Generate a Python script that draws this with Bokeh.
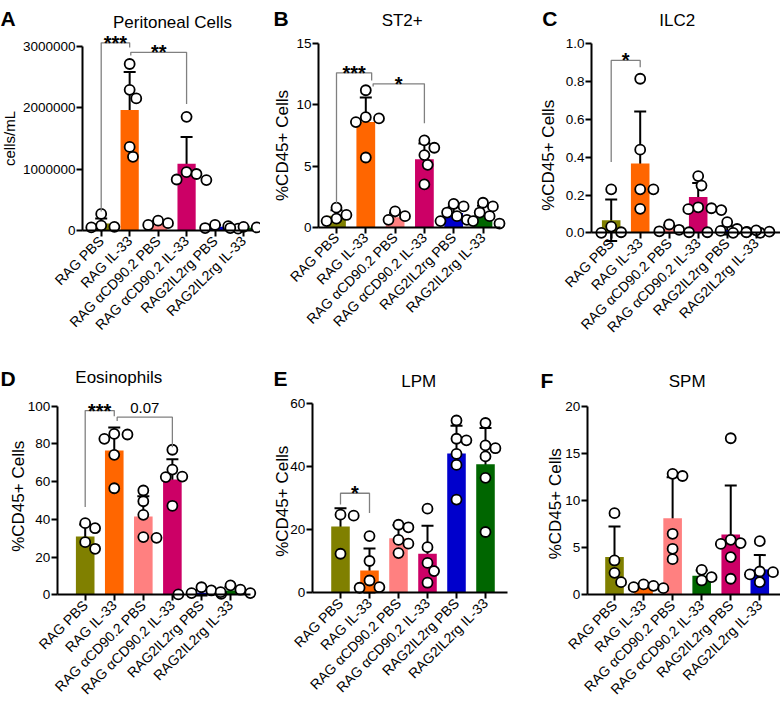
import numpy as np
from bokeh.plotting import figure
from bokeh.models import (ColumnDataSource, Whisker, TeeHead, Label, FixedTicker,
                          Range1d, PrintfTickFormatter)
from bokeh.layouts import column, row
from bokeh.embed import file_html
from bokeh.resources import INLINE

FONT = "Liberation Sans"

# ---------------- data ----------------
groups = ["RAG PBS", "RAG IL-33", "RAG \u03b1CD90.2 PBS", "RAG \u03b1CD90.2 IL-33",
          "RAG2IL2rg PBS", "RAG2IL2rg IL-33"]
colors_main = ["#808000", "#FF6600", "#FF8080", "#CC0066", "#0000CC", "#006600"]
colors_f = ["#808000", "#FF6600", "#FF8080", "#006600", "#CC0066", "#0000CC"]

A_pts = [[270000, 80000, 50000, 60000],
         [2710000, 2290000, 2150000, 1360000, 1200000],
         [160000, 120000, 90000],
         [1850000, 950000, 920000, 820000, 830000],
         [90000, 70000, 40000, 30000],
         [60000, 50000, 40000, 30000]]
A_mean = [115000, 1960000, 125000, 1085000, 60000, 45000]
A_sd = [80000, 620000, 35000, 435000, 30000, 15000]

B_pts = [[1.6, 1.0, 0.7, 0.5],
         [11.2, 9.0, 8.9, 8.6, 5.7],
         [1.3, 0.9, 0.6],
         [7.1, 6.5, 5.9, 5.1, 3.5],
         [1.9, 1.7, 1.2, 0.9, 0.6, 0.5],
         [2.0, 1.7, 1.2, 0.9, 0.5, 0.3]]
B_mean = [0.93, 8.6, 0.82, 5.55, 1.17, 0.95]
B_sd = [0.45, 2.0, 0.35, 1.3, 0.5, 0.8]

C_pts = [[0.23, 0.033, 0.003, 0.0],
         [0.815, 0.44, 0.23, 0.23, 0.127],
         [0.044, 0.016, 0.008, 0.003],
         [0.30, 0.25, 0.135, 0.13, 0.125, 0.12],
         [0.056, 0.02, 0.01, 0.005, 0.003, 0.0],
         [0.013, 0.006, 0.003, 0.0]]
C_mean = [0.066, 0.367, 0.02, 0.19, 0.013, 0.005]
C_sd = [0.11, 0.275, 0.018, 0.073, 0.022, 0.006]

D_pts = [[38.0, 35.3, 27.9, 24.4],
         [85.3, 85.0, 82.7, 74.2, 56.5],
         [55.3, 49.6, 42.4, 30.6, 30.2],
         [76.9, 66.4, 62.7, 62.4, 47.2],
         [4.0, 2.3, 0.9, 0.5, 0.2],
         [5.0, 2.7, 1.4, 0.9]]
D_mean = [30.9, 76.5, 41.5, 61.1, 1.1, 2.3]
D_sd = [6.4, 12.2, 10.7, 10.8, 1.5, 1.8]

E_pts = [[24.8, 24.5, 12.4],
         [18.0, 10.1, 3.9, 1.8, 1.6],
         [21.6, 20.8, 16.8, 15.6, 12.6],
         [26.7, 14.5, 9.5, 6.9, 3.2],
         [54.7, 48.9, 48.4, 44.1, 40.6, 29.6],
         [53.9, 46.8, 45.9, 43.3, 36.5, 19.3]]
E_mean = [21.06, 7.1, 17.35, 12.4, 44.2, 40.8]
E_sd = [5.8, 7.0, 4.1, 8.9, 8.8, 11.5]

F_pts = [[8.66, 3.64, 2.33, 1.34],
         [1.1, 0.95, 0.81, 0.7],
         [12.83, 12.6, 6.47, 4.88, 3.78],
         [2.65, 1.87, 1.52],
         [16.6, 5.83, 5.48, 5.4, 4.0, 1.7],
         [5.69, 2.47, 2.4, 2.16, 1.34]]
F_mean = [4.0, 0.74, 8.13, 2.01, 6.4, 2.69]
F_sd = [3.25, 0.17, 4.33, 0.57, 5.2, 1.52]

# brackets: (left group, left offset, right group, right offset, bar y, left end, right end, text, text y)
A_br = [(0, 0.0, 1, 0.0, 3.055e6, 0.31e6, 2.98e6, "***", 3.055e6),
        (1, 0.04, 3, 0.0, 2.90e6, 2.85e6, 2.06e6, "**", 2.90e6)]
B_br = [(0, 0.0, 1, 0.2, 12.63, 1.91, 12.0, "***", 12.63),
        (1, 0.25, 3, 0.0, 11.73, 11.5, 8.5, "*", 11.73)]
C_br = [(0, 0.0, 1, 0.0, 0.912, 0.374, 0.876, "*", 0.912)]
D_br = [(0, 0.0, 1, 0.0, 97.7, 46.5, 94.7, "***", 97.7),
        (1, 0.1, 3, 0.0, 94.2, 92.1, 78.3, "0.07", 99.3)]
E_br = [(0, 0.0, 1, 0.0, 31.6, 28.0, 25.3, "*", 31.6)]
F_br = []

A_ticks = [0, 1000000, 2000000, 3000000]
B_ticks = [0, 5, 10, 15]
C_ticks = [0, 0.2, 0.4, 0.6, 0.8, 1.0]
D_ticks = [0, 20, 40, 60, 80, 100]
E_ticks = [0, 20, 40, 60]
F_ticks = [0, 5, 10, 15, 20]


def swarm(vals, px_per_unit, spacing, d=10.0, step=3.3):
    order = np.argsort(vals)[::-1]
    placed = []
    offs = [0.0] * len(vals)
    cands = [0.0] + [s * m * step for m in range(1, 30) for s in (1, -1)]
    for i in order:
        yp = vals[i] * px_per_unit
        for c in cands:
            if all((c - px) ** 2 + (yp - py) ** 2 >= d * d for px, py in placed):
                break
        placed.append((c, yp))
        offs[i] = c / spacing
    return offs


def panel(L, pts, means, sds, colors, yticks, fmt, ylabel, ylabel_size, title, letter, brackets):
    fx0, fy0, fw, fh = L["fig"]
    sp = L["spacing"]
    b1 = L["bar1"]
    y0 = L["y0"]
    k = L["ymax"] / (y0 - L["ymax_px"])  # data units per px

    def dx(X):
        return (X - b1) / sp

    def dy(Y):
        return (y0 - Y) * k

    p = figure(width=fw, height=fh, x_range=Range1d(dx(fx0), dx(fx0 + fw)),
               y_range=Range1d(dy(fy0 + fh), dy(fy0)),
               output_backend="svg", toolbar_location=None, title_location=None,
               min_border_left=0, min_border_right=0, min_border_top=0, min_border_bottom=0)
    p.outline_line_color = None
    p.xgrid.visible = False
    p.ygrid.visible = False
    p.background_fill_color = "white"
    p.border_fill_color = "white"

    xa = p.xaxis[0]
    xa.fixed_location = 0
    xa.bounds = (dx(L["axis_x"]), dx(L["right"]))
    xa.ticker = FixedTicker(ticks=list(range(len(groups))))
    xa.major_label_overrides = {i: g for i, g in enumerate(groups)}
    xa.major_label_orientation = np.pi / 4
    xa.major_label_standoff = 2
    xa.major_label_text_font_size = "14px"
    ya = p.yaxis[0]
    ya.fixed_location = dx(L["axis_x"])
    ya.bounds = (0, yticks[-1])
    ya.ticker = FixedTicker(ticks=yticks)
    ya.formatter = PrintfTickFormatter(format=fmt)
    ya.major_label_standoff = 1
    ya.major_label_text_font_size = "13.5px"
    for a in (xa, ya):
        a.axis_line_width = 2
        a.axis_line_color = "black"
        a.major_tick_line_width = 2
        a.major_tick_line_color = "black"
        a.major_tick_out = 6
        a.major_tick_in = 0
        a.minor_tick_line_color = None
        a.major_label_text_font = FONT
        a.major_label_text_color = "black"

    xs = list(range(len(groups)))
    bsrc = ColumnDataSource(dict(x=xs, top=means, color=colors,
                                 lower=[m - sd for m, sd in zip(means, sds)],
                                 upper=[m + sd for m, sd in zip(means, sds)]))
    p.vbar(x="x", top="top", bottom=0, width=0.64, fill_color="color", line_color=None, source=bsrc)

    px, py = [], []
    for i, vals in enumerate(pts):
        offs = swarm(vals, 1.0 / k, sp)
        px += [i + o for o in offs]
        py += list(vals)
    p.scatter(px, py, marker="circle", size=10, fill_color="white", line_color="black", line_width=1.8)

    w = Whisker(source=bsrc, base="x", lower="lower", upper="upper", line_width=2, line_color="black",
                upper_head=TeeHead(size=12, line_width=2, line_color="black"),
                lower_head=TeeHead(size=12, line_width=2, line_color="black"))
    p.add_layout(w)

    for (gl, ol, gr, orr, yb, yl, yr, txt, ty) in brackets:
        xl, xr = gl + ol, gr + orr
        p.line([xl, xl, xr, xr], [yl, yb, yb, yr], line_color="#808080", line_width=1.3)
        if txt.startswith("*"):
            p.add_layout(Label(x=(xl + xr) / 2, y=ty, text=txt, text_align="center",
                               text_baseline="alphabetic", text_font=FONT, text_font_size="20px",
                               text_font_style="bold", text_color="black"))
        else:
            p.add_layout(Label(x=(xl + xr) / 2, y=ty, text=txt, text_align="center",
                               text_baseline="alphabetic", text_font=FONT, text_font_size="15px",
                               text_color="black"))

    tx, tyy = L["title"]
    p.add_layout(Label(x=dx(tx), y=dy(tyy), text=title, text_align="center", text_baseline="alphabetic",
                       text_font=FONT, text_font_size="17px", text_color="black"))
    lx, lyy = L["letter"]
    p.add_layout(Label(x=dx(lx), y=dy(lyy), text=letter, text_align="left", text_baseline="alphabetic",
                       text_font=FONT, text_font_size="21px", text_font_style="bold", text_color="black"))
    yx, yyy = L["ylabel"]
    p.add_layout(Label(x=dx(yx), y=dy(yyy), text=ylabel, text_align="center", text_baseline="middle",
                       angle=np.pi / 2, text_font=FONT, text_font_size=ylabel_size, text_color="black"))
    return p


# layout in page pixels (figure box, axis positions, label anchors)
LA = dict(fig=(0, 0, 260, 345), axis_x=82, bar1=100.7, spacing=28.46, right=253, y0=230, ymax_px=45.7,
          ymax=3000000, title=(172, 22), letter=(0, 18), ylabel=(9, 138))
LB = dict(fig=(260, 0, 260, 345), axis_x=318, bar1=336, spacing=29.3, right=500, y0=226.7, ymax_px=43.3,
          ymax=15, title=(401.7, 20), letter=(273, 18), ylabel=(281.5, 145))
LC = dict(fig=(520, 0, 260, 345), axis_x=591, bar1=610.7, spacing=29.0, right=780, y0=232.3, ymax_px=43.3,
          ymax=1.0, title=(676.7, 20), letter=(541.7, 18), ylabel=(548.3, 152.5))
LD = dict(fig=(0, 345, 260, 358), axis_x=56.7, bar1=84.7, spacing=29.06, right=250, y0=594.3, ymax_px=405.7,
          ymax=100, title=(118.3, 377), letter=(0, 378), ylabel=(18.3, 495.8))
LE = dict(fig=(260, 345, 260, 358), axis_x=311.7, bar1=340, spacing=29.0, right=506.7, y0=592.3, ymax_px=403.3,
          ymax=60, title=(418.3, 381), letter=(273, 378), ylabel=(281.7, 500.8))
LF = dict(fig=(520, 345, 260, 358), axis_x=586.7, bar1=614, spacing=29.06, right=780, y0=594.3, ymax_px=405.7,
          ymax=20, title=(686.7, 381), letter=(540, 380), ylabel=(555, 503.3))

pA = panel(LA, A_pts, A_mean, A_sd, colors_main, A_ticks, "%d", "cells/mL", "15px", "Peritoneal Cells", "A", A_br)
pB = panel(LB, B_pts, B_mean, B_sd, colors_main, B_ticks, "%d", "%CD45+ Cells", "17px", "ST2+", "B", B_br)
pC = panel(LC, C_pts, C_mean, C_sd, colors_main, C_ticks, "%.1f", "%CD45+  Cells", "17px", "ILC2", "C", C_br)
pD = panel(LD, D_pts, D_mean, D_sd, colors_main, D_ticks, "%d", "%CD45+ Cells", "17px", "Eosinophils", "D", D_br)
pE = panel(LE, E_pts, E_mean, E_sd, colors_main, E_ticks, "%d", "%CD45+ Cells", "17px", "LPM", "E", E_br)
pF = panel(LF, F_pts, F_mean, F_sd, colors_f, F_ticks, "%d", "%CD45+ Cells", "17px", "SPM", "F", F_br)

layout = column(row(pA, pB, pC), row(pD, pE, pF))
open("out.html", "w").write(file_html(layout, INLINE))
